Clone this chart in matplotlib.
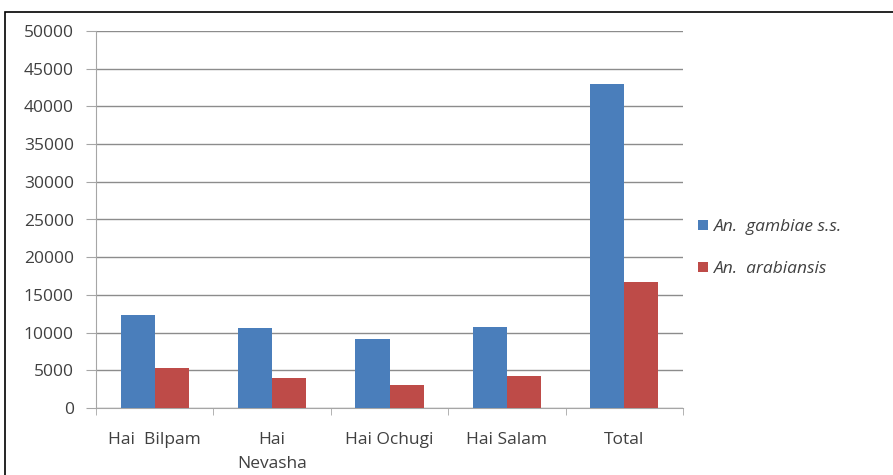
import matplotlib
matplotlib.use("Agg")
import matplotlib.pyplot as plt
import numpy as np
from matplotlib.patches import Rectangle

plt.rcParams['font.family'] = ['Open Sans', 'DejaVu Sans']

categories = ["Hai  Bilpam", "Hai\nNevasha", "Hai Ochugi", "Hai Salam", "Total"]
gambiae = [12400, 10600, 9100, 10800, 43000]
arabiensis = [5300, 4000, 3100, 4200, 16700]
series_names = ["An.  gambiae s.s.", "An.  arabiansis"]
yticks = list(range(0, 50001, 5000))

blue = "#4a7ebb"
red = "#be4b48"
text_col = "#404040"
axis_col = "#a6a6a6"
fs = 12.5

fig = plt.figure(figsize=(8.93, 4.75), dpi=100)
ax = fig.add_axes([96 / 893, 1 - 408 / 475, (683 - 96) / 893, (408 - 31) / 475])

x = np.arange(len(categories))
w = 0.29
ax.bar(x - w / 2, gambiae, width=w, color=blue, label=series_names[0], zorder=3)
ax.bar(x + w / 2, arabiensis, width=w, color=red, label=series_names[1], zorder=3)

ax.set_xlim(-0.5, len(categories) - 0.5)
ax.set_ylim(0, 50000)
ax.set_yticks(yticks)
ax.set_yticklabels([str(v) for v in yticks])
ax.yaxis.grid(True, color="#8c8c8c", linewidth=1.0, zorder=0)

ax.set_xticks(x)
ax.set_xticklabels(categories, linespacing=1.65, va="top")
ax.set_xticks(np.arange(-0.5, len(categories)), minor=True)
ax.tick_params(axis="x", which="major", length=0, pad=17.5, labelsize=fs, colors=text_col)
ax.tick_params(axis="x", which="minor", length=5, color=axis_col, direction="out")
ax.tick_params(axis="y", length=7, color=axis_col, pad=9, labelsize=fs, colors=text_col)
for lbl in ax.get_xticklabels() + ax.get_yticklabels():
    lbl.set_color(text_col)

for side in ("top", "right"):
    ax.spines[side].set_visible(False)
ax.spines["left"].set_color(axis_col)
ax.spines["bottom"].set_color(axis_col)

leg = fig.legend(loc="center left", bbox_to_anchor=(698 / 893, 1 - 248 / 475),
                 frameon=False, fontsize=fs, handlelength=0.55, handleheight=0.55,
                 handletextpad=0.35, labelspacing=1.5, borderaxespad=0, borderpad=0)
for t in leg.get_texts():
    t.set_style("italic")
    t.set_color(text_col)

fig.patches.append(Rectangle((5 / 893, -0.1), 1.2, 1 - 12 / 475 + 0.1,
                             transform=fig.transFigure, fill=False,
                             edgecolor="black", linewidth=1.2))

fig.savefig("out.png", dpi=100)
